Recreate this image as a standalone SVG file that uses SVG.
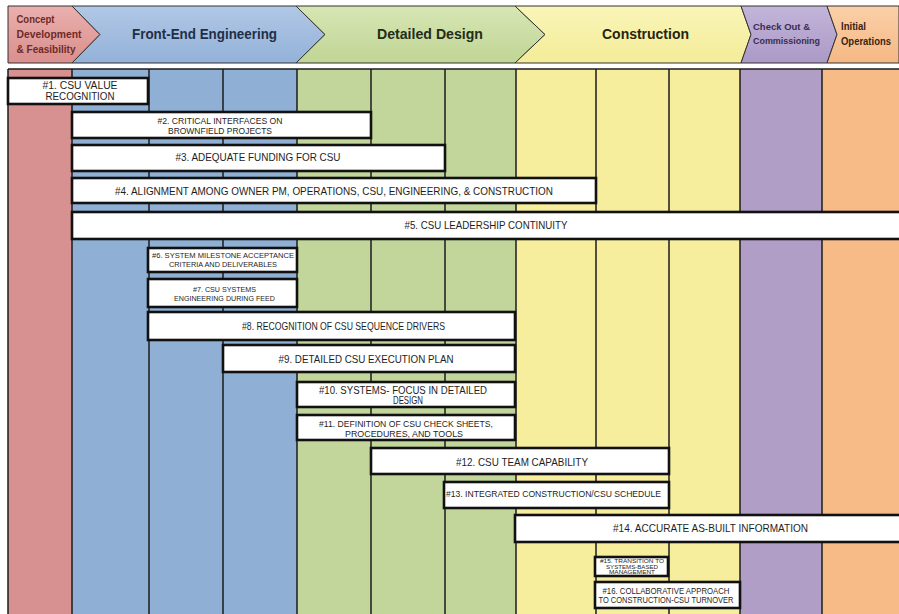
<svg xmlns="http://www.w3.org/2000/svg" width="899" height="614" viewBox="0 0 899 614">
  <defs>
    <linearGradient id="gRed" x1="0" y1="0" x2="0" y2="1"><stop offset="0" stop-color="#eab0ae"/><stop offset="1" stop-color="#d98f8d"/></linearGradient>
    <linearGradient id="gBlue" x1="0" y1="0" x2="0" y2="1"><stop offset="0" stop-color="#b1c8e6"/><stop offset="1" stop-color="#93b1d8"/></linearGradient>
    <linearGradient id="gGreen" x1="0" y1="0" x2="0" y2="1"><stop offset="0" stop-color="#d7e6b4"/><stop offset="1" stop-color="#c0d595"/></linearGradient>
    <linearGradient id="gYellow" x1="0" y1="0" x2="0" y2="1"><stop offset="0" stop-color="#f9f5b8"/><stop offset="1" stop-color="#f4ec98"/></linearGradient>
    <linearGradient id="gPurple" x1="0" y1="0" x2="0" y2="1"><stop offset="0" stop-color="#c3b5da"/><stop offset="1" stop-color="#ab99c6"/></linearGradient>
    <linearGradient id="gOrange" x1="0" y1="0" x2="0" y2="1"><stop offset="0" stop-color="#fbd0a8"/><stop offset="1" stop-color="#f5b884"/></linearGradient>
  </defs>
  <style>
    .phase { stroke: #333; stroke-width: 1; stroke-linejoin: miter; }
    .ph { font-family: "Liberation Sans", Arial, sans-serif; font-weight: bold; }
    .col { stroke: none; }
    .div { stroke: #1c1c1c; stroke-width: 1.5; fill: none; }
    .box { fill: #ffffff; stroke: #111111; stroke-width: 2.6; }
    .t { font-family: "Liberation Sans Narrow", "Liberation Sans", Arial, sans-serif; fill: #1e1e1e; text-anchor: middle; }
  </style>

  <rect width="899" height="614" fill="#ffffff"/>

  <!-- phase chevrons -->
  <g id="phases">
    <path class="phase" fill="url(#gRed)" d="M8,6 L72,6 L100,34.5 L72,63 L8,63 Z"/>
    <path class="phase" fill="url(#gBlue)" d="M72,6 L296,6 L325,34.5 L296,63 L72,63 L100,34.5 Z"/>
    <path class="phase" fill="url(#gGreen)" d="M296,6 L515,6 L545,34.5 L515,63 L296,63 L325,34.5 Z"/>
    <path class="phase" fill="url(#gYellow)" d="M515,6 L741,6 L751,34.5 L741,63 L515,63 L545,34.5 Z"/>
    <path class="phase" fill="url(#gPurple)" d="M741,6 L827,6 L837,34.5 L827,63 L741,63 L751,34.5 Z"/>
    <path class="phase" fill="url(#gOrange)" d="M827,6 L899,6 L899,63 L827,63 L837,34.5 Z"/>
    <g class="ph" font-size="10.5" fill="#6e2a28">
      <text x="16.5" y="23" textLength="38" lengthAdjust="spacingAndGlyphs">Concept</text>
      <text x="16.5" y="38" textLength="65" lengthAdjust="spacingAndGlyphs">Development</text>
      <text x="16.5" y="53" textLength="59" lengthAdjust="spacingAndGlyphs">&amp; Feasibility</text>
    </g>
    <text class="ph" x="132" y="39" font-size="14" fill="#1f2f46" textLength="145" lengthAdjust="spacingAndGlyphs">Front-End Engineering</text>
    <text class="ph" x="377" y="39" font-size="14" fill="#232d18" textLength="106" lengthAdjust="spacingAndGlyphs">Detailed Design</text>
    <text class="ph" x="602" y="39" font-size="14" fill="#26240f" textLength="87" lengthAdjust="spacingAndGlyphs">Construction</text>
    <g class="ph" font-size="9.5" fill="#3b2d52">
      <text x="753" y="30" textLength="57" lengthAdjust="spacingAndGlyphs">Check Out &amp;</text>
      <text x="753" y="44" textLength="67" lengthAdjust="spacingAndGlyphs">Commissioning</text>
    </g>
    <g class="ph" font-size="11" fill="#3b2414">
      <text x="841" y="30" textLength="25" lengthAdjust="spacingAndGlyphs">Initial</text>
      <text x="841" y="45" textLength="50" lengthAdjust="spacingAndGlyphs">Operations</text>
    </g>
  </g>

  <!-- timeline columns -->
  <g id="columns">
    <rect class="col" x="8" y="69" width="64" height="545" fill="#d69190"/>
    <rect class="col" x="72" y="69" width="225" height="545" fill="#8fafd5"/>
    <rect class="col" x="297" y="69" width="219" height="545" fill="#c2d69b"/>
    <rect class="col" x="516" y="69" width="224" height="545" fill="#f6ee9c"/>
    <rect class="col" x="740" y="69" width="82" height="545" fill="#b09ec6"/>
    <rect class="col" x="822" y="69" width="77" height="545" fill="#f6bb86"/>
    <path class="div" d="M8,69 H899 M8,69 V614 M72,69 V614 M149,69 V614 M223,69 V614 M297,69 V614 M371,69 V614 M445,69 V614 M516,69 V614 M596,69 V614 M669,69 V614 M740,69 V614 M822,69 V614"/>
  </g>

  <!-- success factor bars -->
  <g id="n1">
    <rect class="box" x="8" y="78" width="140" height="26"/>
    <text class="t" x="80" y="89" font-size="10" textLength="75" lengthAdjust="spacingAndGlyphs">#1. CSU VALUE</text>
    <text class="t" x="80" y="99.5" font-size="10" textLength="69" lengthAdjust="spacingAndGlyphs">RECOGNITION</text>
  </g>
  <g id="n2">
    <rect class="box" x="72" y="112" width="299" height="26"/>
    <text class="t" x="220" y="123.5" font-size="9.5" textLength="125" lengthAdjust="spacingAndGlyphs">#2. CRITICAL INTERFACES ON</text>
    <text class="t" x="220" y="133.5" font-size="9.5" textLength="104" lengthAdjust="spacingAndGlyphs">BROWNFIELD PROJECTS</text>
  </g>
  <g id="n3">
    <rect class="box" x="72" y="145" width="373" height="26"/>
    <text class="t" x="258" y="161" font-size="11.5" textLength="165" lengthAdjust="spacingAndGlyphs">#3. ADEQUATE FUNDING FOR CSU</text>
  </g>
  <g id="n4">
    <rect class="box" x="72" y="178" width="524" height="25"/>
    <text class="t" x="334" y="194.5" font-size="11.5" textLength="438" lengthAdjust="spacingAndGlyphs">#4. ALIGNMENT AMONG OWNER PM, OPERATIONS, CSU, ENGINEERING, &amp; CONSTRUCTION</text>
  </g>
  <g id="n5">
    <rect class="box" x="72" y="212" width="830" height="27"/>
    <text class="t" x="486" y="229" font-size="11" textLength="163" lengthAdjust="spacingAndGlyphs">#5. CSU LEADERSHIP CONTINUITY</text>
  </g>
  <g id="n6">
    <rect class="box" x="148" y="248" width="149" height="24"/>
    <text class="t" x="223" y="258" font-size="8" textLength="142" lengthAdjust="spacingAndGlyphs">#6. SYSTEM MILESTONE ACCEPTANCE</text>
    <text class="t" x="223" y="266.5" font-size="8" textLength="108" lengthAdjust="spacingAndGlyphs">CRITERIA AND DELIVERABLES</text>
  </g>
  <g id="n7">
    <rect class="box" x="148" y="279" width="149" height="28"/>
    <text class="t" x="224.5" y="292" font-size="8" textLength="63" lengthAdjust="spacingAndGlyphs">#7. CSU SYSTEMS</text>
    <text class="t" x="224.5" y="300.5" font-size="8" textLength="101" lengthAdjust="spacingAndGlyphs">ENGINEERING DURING FEED</text>
  </g>
  <g id="n8">
    <rect class="box" x="148" y="312" width="367" height="28"/>
    <text class="t" x="343.5" y="330" font-size="11" textLength="203" lengthAdjust="spacingAndGlyphs">#8. RECOGNITION OF CSU SEQUENCE DRIVERS</text>
  </g>
  <g id="n9">
    <rect class="box" x="223" y="345" width="292" height="27"/>
    <text class="t" x="366" y="362.5" font-size="11" textLength="175" lengthAdjust="spacingAndGlyphs">#9. DETAILED CSU EXECUTION PLAN</text>
  </g>
  <g id="n10">
    <rect class="box" x="297" y="382" width="218" height="25"/>
    <text class="t" x="403" y="393.5" font-size="10" textLength="168" lengthAdjust="spacingAndGlyphs">#10. SYSTEMS- FOCUS IN DETAILED</text>
    <text class="t" x="408" y="403.5" font-size="10" textLength="30" lengthAdjust="spacingAndGlyphs">DESIGN</text>
  </g>
  <g id="n11">
    <rect class="box" x="297" y="415" width="218" height="25"/>
    <text class="t" x="406" y="426.5" font-size="9.5" textLength="174" lengthAdjust="spacingAndGlyphs">#11. DEFINITION OF CSU CHECK SHEETS,</text>
    <text class="t" x="404" y="436.5" font-size="9.5" textLength="118" lengthAdjust="spacingAndGlyphs">PROCEDURES, AND TOOLS</text>
  </g>
  <g id="n12">
    <rect class="box" x="371" y="448" width="298" height="26"/>
    <text class="t" x="522" y="465.5" font-size="11" textLength="132" lengthAdjust="spacingAndGlyphs">#12. CSU TEAM CAPABILITY</text>
  </g>
  <g id="n13">
    <rect class="box" x="444" y="482" width="225" height="26"/>
    <text class="t" x="553.5" y="497" font-size="9.5" textLength="215" lengthAdjust="spacingAndGlyphs">#13. INTEGRATED CONSTRUCTION/CSU SCHEDULE</text>
  </g>
  <g id="n14">
    <rect class="box" x="515" y="515" width="387" height="27"/>
    <text class="t" x="710.5" y="532" font-size="11" textLength="195" lengthAdjust="spacingAndGlyphs">#14. ACCURATE AS-BUILT INFORMATION</text>
  </g>
  <g id="n15">
    <rect class="box" x="595" y="557" width="73" height="19"/>
    <text class="t" x="632" y="563.3" font-size="5.4" textLength="64" lengthAdjust="spacingAndGlyphs">#15. TRANSITION TO</text>
    <text class="t" x="632" y="568.7" font-size="5.4" textLength="52" lengthAdjust="spacingAndGlyphs">SYSTEMS-BASED</text>
    <text class="t" x="632" y="574.1" font-size="5.4" textLength="46" lengthAdjust="spacingAndGlyphs">MANAGEMENT</text>
  </g>
  <g id="n16">
    <rect class="box" x="595" y="582" width="145" height="26"/>
    <text class="t" x="666" y="594" font-size="8.5" textLength="127" lengthAdjust="spacingAndGlyphs">#16. COLLABORATIVE APPROACH</text>
    <text class="t" x="666" y="602.5" font-size="8.5" textLength="135" lengthAdjust="spacingAndGlyphs">TO CONSTRUCTION-CSU TURNOVER</text>
  </g>
</svg>
